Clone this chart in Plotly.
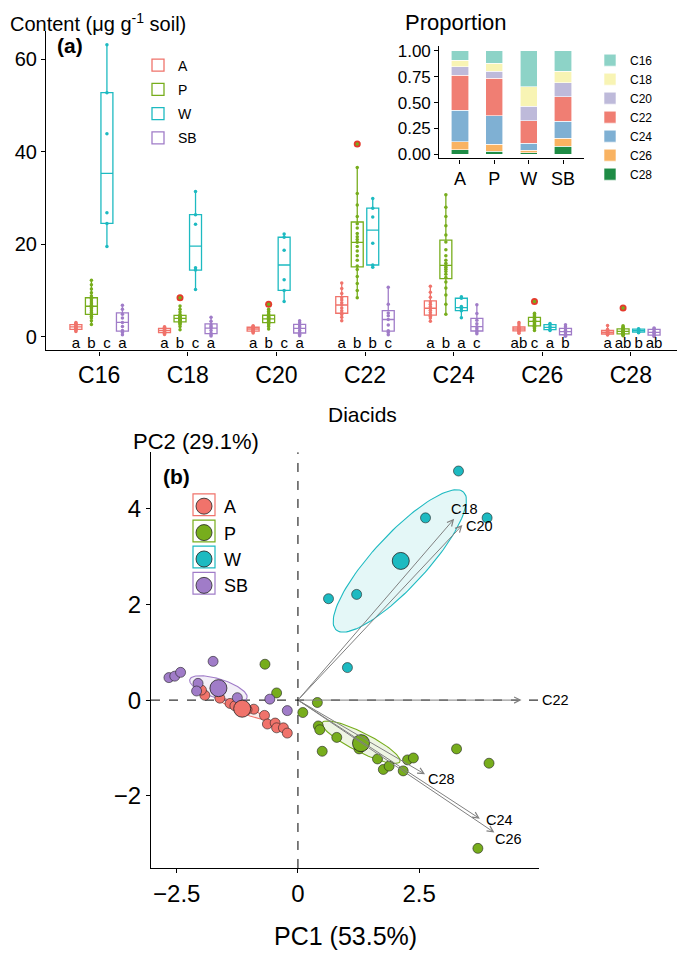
import plotly.graph_objects as go
import numpy as np

# ---------------- data ----------------
acids = ['C16', 'C18', 'C20', 'C22', 'C24', 'C26', 'C28']
groups = ['A', 'P', 'W', 'SB']
group_colors = ['#F0736B', '#77AD1C', '#1DBAC1', '#A07CC8']

# Panel (a): diacid contents (ug/g soil); one list per acid C16..C28
A_content = [
    [1.1, 1.4, 1.5, 1.6, 1.8, 1.9, 2.1, 2.2, 2.35, 2.55, 2.7, 2.85, 3.05],
    [0.45, 0.7, 0.8, 0.86, 1.0, 1.1, 1.28, 1.4, 1.55, 1.71, 1.85, 2.0, 2.15],
    [0.8, 1.0, 1.1, 1.21, 1.35, 1.5, 1.64, 1.75, 1.85, 1.99, 2.1, 2.2, 2.35],
    [3.4, 4.2, 4.8, 5.13, 5.6, 6.2, 6.84, 7.3, 7.9, 8.41, 9.3, 10.4, 11.6],
    [3.3, 4.0, 4.4, 4.71, 5.2, 5.7, 6.13, 6.5, 7.0, 7.49, 8.5, 9.6, 10.9],
    [0.7, 1.0, 1.15, 1.28, 1.4, 1.5, 1.64, 1.75, 1.85, 1.99, 2.3, 2.7, 3.05],
    [0.35, 0.45, 0.5, 0.57, 0.7, 0.8, 0.92, 1.0, 1.1, 1.28, 1.4, 1.55, 2.4],
]
P_content = [
    [2.6, 3.4, 4.0, 4.4, 4.7, 4.85, 5.2, 5.6, 6.0, 6.3, 6.56, 6.8, 7.1, 7.5, 7.9, 8.27, 8.8, 9.5, 10.3, 11.2, 12.2],
    [1.5, 2.2, 2.6, 2.9, 3.1, 3.21, 3.4, 3.55, 3.7, 3.8, 3.92, 4.0, 4.1, 4.2, 4.35, 4.49, 4.8, 5.3, 5.9, 6.6, 8.4],
    [1.64, 2.2, 2.5, 2.75, 2.95, 3.07, 3.3, 3.45, 3.6, 3.75, 3.85, 3.95, 4.05, 4.2, 4.4, 4.56, 4.8, 5.1, 5.5, 5.9, 7.0],
    [8.4, 10.0, 11.5, 13.0, 14.5, 15.3, 16.5, 17.5, 18.5, 19.5, 20.4, 21.0, 21.6, 22.3, 23.5, 24.4, 26.0, 28.5, 31.0, 36.6, 41.7],
    [4.85, 7.0, 9.0, 10.5, 11.8, 12.8, 13.5, 14.1, 14.6, 15.0, 15.4, 15.9, 16.5, 17.5, 18.8, 20.5, 22.0, 24.0, 26.0, 28.0, 30.7],
    [1.3, 1.7, 1.9, 2.1, 2.25, 2.35, 2.6, 2.8, 3.0, 3.15, 3.28, 3.4, 3.55, 3.7, 3.9, 4.13, 4.3, 4.5, 4.75, 5.05, 7.6],
    [0.2, 0.35, 0.45, 0.5, 0.55, 0.57, 0.7, 0.85, 0.95, 1.05, 1.14, 1.2, 1.3, 1.4, 1.5, 1.64, 1.8, 1.95, 2.1, 2.35, 6.2],
]
W_content = [
    [19.5, 24.5, 26.8, 43.9, 52.8, 63.2],
    [10.2, 14.4, 14.9, 24.3, 26.4, 31.4],
    [7.6, 10.0, 12.3, 18.7, 21.5, 22.2],
    [15.0, 15.5, 20.2, 25.9, 27.8, 29.9],
    [4.1, 5.6, 6.0, 6.5, 8.3, 8.6],
    [1.3, 1.5, 1.9, 2.1, 2.6, 2.85],
    [0.85, 0.95, 1.2, 1.35, 1.6, 1.7],
]
SB_content = [
    [0.4, 0.9, 1.3, 2.2, 3.06, 4.0, 4.85, 5.9, 6.8],
    [0.1, 0.4, 0.71, 1.3, 1.85, 2.2, 2.57, 3.3, 4.2],
    [0.2, 0.5, 0.86, 1.3, 1.78, 2.1, 2.5, 3.0, 3.4],
    [0.4, 0.9, 1.28, 2.5, 3.7, 4.5, 5.13, 7.0, 10.7],
    [0.6, 1.0, 1.28, 1.7, 2.14, 2.8, 3.56, 5.0, 6.9],
    [0.05, 0.3, 0.43, 0.8, 1.07, 1.3, 1.64, 2.1, 2.55],
    [0.0, 0.2, 0.36, 0.7, 0.92, 1.1, 1.5, 1.7, 1.86],
]
A_letters = ['a', 'a', 'a', 'a', 'a', 'ab', 'a']
P_letters = ['b', 'b', 'b', 'b', 'b', 'c', 'ab']
W_letters = ['c', 'c', 'c', 'b', 'a', 'a', 'b']
SB_letters = ['a', 'a', 'a', 'c', 'c', 'b', 'ab']

# Inset: proportion of each acid per group (A, P, W, SB)
prop_C16 = [0.089, 0.121, 0.345, 0.198]
prop_C18 = [0.064, 0.074, 0.192, 0.112]
prop_C20 = [0.080, 0.070, 0.137, 0.131]
prop_C22 = [0.342, 0.361, 0.221, 0.240]
prop_C24 = [0.304, 0.278, 0.067, 0.166]
prop_C26 = [0.076, 0.067, 0.022, 0.076]
prop_C28 = [0.045, 0.029, 0.016, 0.077]
prop_colors = ['#8DD3C7', '#F8F4B4', '#BEBADA', '#F07E73', '#7FB0D3', '#F9B362', '#1E8C45']

# Panel (b): PCA scores
A_pc1 = [-1.92, -1.61, -1.40, -0.91, -0.69, -0.63, -0.47, -0.44, -0.30, -0.22, -1.99, -1.30, -1.05]
A_pc2 = [0.10, 0.04, -0.07, -0.19, -0.32, -0.50, -0.48, -0.58, -0.58, -0.69, 0.21, -0.12, -0.20]
P_pc1 = [-0.68, -0.44, 0.40, 0.10, 0.42, 0.45, 0.80, 0.50, 1.26, 1.64, 1.76, 1.88, 2.17, 2.26, 2.38, 3.27, 3.94, 3.71]
P_pc2 = [0.75, 0.15, -0.05, -0.26, -0.54, -0.62, -0.78, -1.07, -1.02, -1.23, -1.45, -1.38, -1.48, -1.25, -1.21, -1.02, -1.32, -3.10]
W_pc1 = [3.31, 2.63, 3.90, 1.21, 0.63, 1.02]
W_pc2 = [4.79, 3.81, 3.81, 2.21, 2.12, 0.68]
SB_pc1 = [-2.66, -2.54, -2.42, -1.75, -2.06, -2.09, -1.25, -0.58, -0.22]
SB_pc2 = [0.47, 0.50, 0.58, 0.81, 0.35, 0.19, 0.05, 0.02, -0.22]
centroid_pc1 = [-1.15, 1.30, 2.12, -1.64]
centroid_pc2 = [-0.18, -0.90, 2.91, 0.25]
# ellipses: centre, semi-axes, angle (deg)
ell_cx = [-1.15, 1.30, 2.10, -1.64]
ell_cy = [-0.18, -0.88, 2.91, 0.24]
ell_a = [0.52, 0.90, 1.95, 0.62]
ell_b = [0.08, 0.20, 0.55, 0.20]
ell_angle = [-24, -27, 47.7, -18]
# loadings
load_names = ['C18', 'C20', 'C22', 'C24', 'C26', 'C28']
load_pc1 = [3.22, 3.39, 4.61, 3.75, 4.05, 2.62]
load_pc2 = [3.79, 3.66, 0.0, -2.48, -2.77, -1.55]
load_lab_x = [3.44, 3.75, 5.30, 4.15, 4.34, 2.96]
load_lab_y = [3.99, 3.65, 0.0, -2.50, -2.91, -1.64]

# ---------------- figure ----------------
FONT = 'Liberation Sans, Arial, sans-serif'
W_PX, H_PX = 685, 958
OFF = 8  # page body margin: positions below are given in page pixels

def px_x(p):
    return (p - OFF) / W_PX

def px_y(p):
    return 1 - (p - OFF) / H_PX

PC1_RANGE = [-3.03, 4.97]
PC2_RANGE = [-3.51, 5.18]

fig = go.Figure()

contents = [A_content, P_content, W_content, SB_content]
letters = [A_letters, P_letters, W_letters, SB_letters]
offsets = [-0.2625, -0.0875, 0.0875, 0.2625]

for gi, g in enumerate(groups):
    col = group_colors[gi]
    xs, ys = [], []
    for ai, vals in enumerate(contents[gi]):
        xs += [ai + offsets[gi]] * len(vals)
        ys += vals
    fig.add_trace(go.Box(
        x=xs, y=ys, name=g, width=0.135, boxpoints='outliers',
        quartilemethod='linear', whiskerwidth=0,
        line=dict(color=col, width=1.3), fillcolor='rgba(255,255,255,0)',
        marker=dict(color='#E5392C', size=7, line=dict(width=0)),
        xaxis='x', yaxis='y', legend='legend', legendgroup=g,
        hoverinfo='skip'))
    fig.add_trace(go.Scatter(
        x=xs, y=ys, mode='markers', marker=dict(color=col, size=3.5),
        xaxis='x', yaxis='y', showlegend=False, legendgroup=g, hoverinfo='skip'))
    fig.add_trace(go.Scatter(
        x=[ai + offsets[gi] for ai in range(len(acids))], y=[-1.75] * len(acids),
        mode='text', text=letters[gi],
        textfont=dict(family=FONT, size=15, color='black'),
        xaxis='x', yaxis='y', showlegend=False, hoverinfo='skip', cliponaxis=False))

# inset stacked bars (bottom C28 -> top C16)
props = [prop_C16, prop_C18, prop_C20, prop_C22, prop_C24, prop_C26, prop_C28]
for k in range(len(acids) - 1, -1, -1):
    fig.add_trace(go.Bar(
        x=groups, y=props[k], name=acids[k], width=0.5,
        marker=dict(color=prop_colors[k], line=dict(color='white', width=0.6)),
        xaxis='x2', yaxis='y2', legend='legend2', hoverinfo='skip'))

# PCA panel
pcs = [(A_pc1, A_pc2), (P_pc1, P_pc2), (W_pc1, W_pc2), (SB_pc1, SB_pc2)]
t = np.linspace(0, 2 * np.pi, 120)
for gi, g in enumerate(groups):
    col = group_colors[gi]
    th = np.deg2rad(ell_angle[gi])
    ex = ell_cx[gi] + ell_a[gi] * np.cos(t) * np.cos(th) - ell_b[gi] * np.sin(t) * np.sin(th)
    ey = ell_cy[gi] + ell_a[gi] * np.cos(t) * np.sin(th) + ell_b[gi] * np.sin(t) * np.cos(th)
    r, gg, b = int(col[1:3], 16), int(col[3:5], 16), int(col[5:7], 16)
    fig.add_trace(go.Scatter(
        x=ex, y=ey, mode='lines', fill='toself',
        fillcolor='rgba(%d,%d,%d,0.12)' % (r, gg, b),
        line=dict(color=col, width=1.1), xaxis='x3', yaxis='y3',
        showlegend=False, hoverinfo='skip'))
for gi, g in enumerate(groups):
    col = group_colors[gi]
    fig.add_trace(go.Scatter(
        x=pcs[gi][0], y=pcs[gi][1], mode='markers',
        marker=dict(color=col, size=10, line=dict(color='#222222', width=0.6)),
        xaxis='x3', yaxis='y3', showlegend=False, hoverinfo='skip'))
for gi, g in enumerate(groups):
    col = group_colors[gi]
    fig.add_trace(go.Scatter(
        x=[centroid_pc1[gi]], y=[centroid_pc2[gi]], mode='markers', name=g,
        marker=dict(color=col, size=17, line=dict(color='#222222', width=0.8)),
        xaxis='x3', yaxis='y3', legend='legend3', hoverinfo='skip'))

annotations = []
for k in range(len(load_names)):
    annotations.append(dict(
        x=load_pc1[k], y=load_pc2[k], ax=0, ay=0, xref='x3', yref='y3',
        axref='x3', ayref='y3', text='', showarrow=True, arrowhead=5,
        arrowsize=1.2, arrowwidth=1, arrowcolor='#808080'))
    # label placed relative to the axis domain so labels beyond the range still show
    annotations.append(dict(
        x=(load_lab_x[k] - PC1_RANGE[0]) / (PC1_RANGE[1] - PC1_RANGE[0]),
        y=(load_lab_y[k] - PC2_RANGE[0]) / (PC2_RANGE[1] - PC2_RANGE[0]),
        xref='x3 domain', yref='y3 domain', text=load_names[k],
        xanchor='center', yanchor='middle',
        showarrow=False, font=dict(family=FONT, size=14.5, color='black')))

def txt(s, x, y, size, xanchor='center', yanchor='middle'):
    return dict(text=s, x=px_x(x), y=px_y(y), xref='paper', yref='paper',
                showarrow=False, xanchor=xanchor, yanchor=yanchor,
                font=dict(family=FONT, size=size, color='black'))

annotations += [
    txt('Content (\u03bcg g<sup>-1</sup> soil)', OFF, 19, 20, xanchor='left'),
    txt('<b>(a)</b>', 55, 42, 21, xanchor='left'),
    txt('Proportion', 456, 19, 22),
    txt('Diacids', 362, 415, 21),
    txt('PC2 (29.1%)', 196, 442, 22),
    txt('<b>(b)</b>', 176, 477, 21),
    txt('PC1 (53.5%)', 345, 942, 25),
]

# legend (b) item geometry (plotly legend: glyph centre 20px right of legend x)
LEG3_X, LEG3_TOP, LEG3_FONT = 184, 489, 18
leg3_step = LEG3_FONT * 1.3 + 3
shapes = [
    dict(type='line', xref='x3 domain', yref='y3', x0=0, x1=1, y0=0, y1=0,
         line=dict(color='black', width=1, dash='dash'), layer='below'),
    dict(type='line', xref='x3', yref='y3 domain', x0=0, x1=0, y0=0, y1=1,
         line=dict(color='black', width=1, dash='dash'), layer='below'),
]
for gi in range(len(groups)):
    cx = LEG3_X + 20
    cy = LEG3_TOP + 17 + gi * leg3_step
    shapes.append(dict(type='rect', xref='paper', yref='paper',
                       x0=px_x(cx - 11), x1=px_x(cx + 11), y0=px_y(cy + 11), y1=px_y(cy - 11),
                       line=dict(color=group_colors[gi], width=1.2), layer='above'))

axis_common = dict(showgrid=False, zeroline=False, showline=True, linecolor='black',
                   linewidth=1.2, ticks='outside', ticklen=4, tickcolor='black',
                   mirror=False)

fig.update_layout(
    width=W_PX, height=H_PX, margin=dict(l=0, r=0, t=0, b=0),
    paper_bgcolor='white', plot_bgcolor='white',
    barmode='stack', boxmode='overlay',
    font=dict(family=FONT, color='black'),
    xaxis=dict(domain=[px_x(46), px_x(684)], range=[-0.6, 6.6],
               tickvals=list(range(len(acids))), ticktext=acids,
               tickfont=dict(size=23), anchor='y', **axis_common),
    yaxis=dict(domain=[px_y(350), px_y(27)], range=[-3, 66.2],
               tickvals=[0, 20, 40, 60], tickfont=dict(size=20), anchor='x', **axis_common),
    xaxis2=dict(domain=[px_x(439.3), px_x(583.7)], range=[-0.6, 3.6],
                type='category', tickfont=dict(size=18), anchor='y2', **axis_common),
    yaxis2=dict(domain=[px_y(156), px_y(42.3)], range=[-0.04, 1.048],
                tickvals=[0, 0.25, 0.5, 0.75, 1.0], ticktext=['0.00', '0.25', '0.50', '0.75', '1.00'],
                tickfont=dict(size=17), anchor='x2', **axis_common),
    xaxis3=dict(domain=[px_x(151), px_x(539)], range=PC1_RANGE,
                tickvals=[-2.5, 0, 2.5], ticktext=['\u22122.5', '0', '2.5'],
                tickfont=dict(size=24), anchor='y3', **axis_common),
    yaxis3=dict(domain=[px_y(873), px_y(453)], range=PC2_RANGE,
                tickvals=[-2, 0, 2, 4], ticktext=['\u22122', '0', '2', '4'],
                tickfont=dict(size=24), anchor='x3', **axis_common),
    legend=dict(x=px_x(138), y=px_y(46), xanchor='left', yanchor='top',
                font=dict(family=FONT, size=14), bgcolor='rgba(0,0,0,0)',
                tracegroupgap=3),
    legend2=dict(x=px_x(590), y=px_y(42), xanchor='left', yanchor='top',
                 font=dict(family=FONT, size=12), bgcolor='rgba(0,0,0,0)',
                 traceorder='reversed'),
    legend3=dict(x=px_x(LEG3_X), y=px_y(LEG3_TOP), xanchor='left', yanchor='top',
                 font=dict(family=FONT, size=LEG3_FONT), bgcolor='rgba(0,0,0,0)',
                 itemsizing='trace'),
    annotations=annotations, shapes=shapes,
)

fig.write_html('out.html')
